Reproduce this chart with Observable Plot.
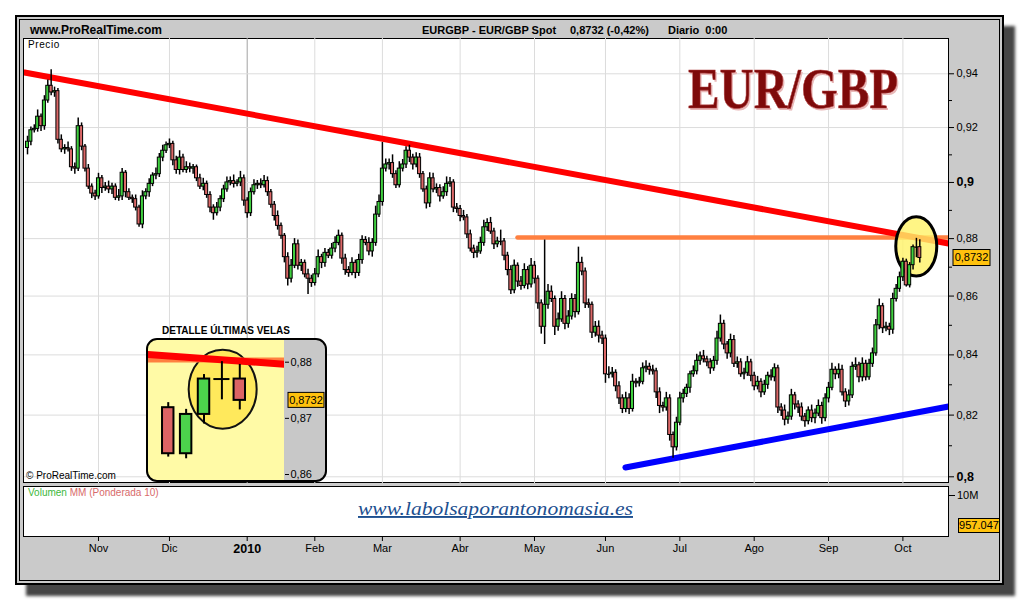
<!DOCTYPE html>
<html><head><meta charset="utf-8">
<script src="https://cdn.jsdelivr.net/npm/d3@7"></script>
<script src="https://cdn.jsdelivr.net/npm/@observablehq/plot@0.6"></script>
<style>
body{margin:0;background:#fff;width:1020px;height:600px;overflow:hidden;font-family:"Liberation Sans",Arial,sans-serif;}
#root{position:relative;width:1020px;height:600px;}
.abs{position:absolute;}
#frame{left:15px;top:15px;width:985px;height:566px;background:#cacaca;border:2px solid #000;
 box-shadow: inset 0 0 0 2px #cacaca, inset 0 0 0 3px #000, 11px 11px 3px #454545;}
.hdr{font-size:12px;font-weight:bold;line-height:14px;white-space:pre;color:#000;}
.hdr2{font-size:11px;font-weight:bold;line-height:14px;white-space:pre;color:#000;}
#mainpanel{left:23px;top:38px;width:924px;height:443px;background:#fff;border:1px solid #000;}
#volpanel{left:23px;top:486px;width:924px;height:49px;background:#fff;border:1px solid #000;}
#insetbox{left:146px;top:338px;width:177px;height:140px;border:2px solid #000;border-radius:11px;
 background:linear-gradient(to right,#fffaa6 0,#fffaa6 136px,#c8c8c8 136px);}
.small{font-size:10px;line-height:12px;white-space:pre;}
svg{overflow:visible;}
</style></head>
<body><div id="root">
<div id="frame" class="abs"></div>
<div class="abs hdr" style="left:30px;top:23px">www.ProRealTime.com</div>
<div class="abs hdr2" style="left:422px;top:23px">EURGBP - EUR/GBP Spot</div>
<div class="abs hdr2" style="left:570px;top:23px">0,8732 (-0,42%)</div>
<div class="abs hdr2" style="left:668px;top:23px">Diario  0:00</div>
<div id="mainpanel" class="abs"></div>
<div id="volpanel" class="abs"></div>
<div id="mainchart" class="abs" style="left:24px;top:38px"></div>
<div class="abs small" style="left:28px;top:39px;letter-spacing:0.6px">Precio</div>
<div class="abs small" style="left:26px;top:470px">© ProRealTime.com</div>
<svg class="abs" style="left:686px;top:62px" width="222" height="52">
 <text x="3.5" y="47.5" font-family="Liberation Serif, serif" font-weight="bold" font-size="57" textLength="210" lengthAdjust="spacingAndGlyphs" fill="#e8b8b8">EUR/GBP</text>
 <text x="2" y="46" font-family="Liberation Serif, serif" font-weight="bold" font-size="57" textLength="210" lengthAdjust="spacingAndGlyphs" fill="#7e0a0a" stroke="#b04040" stroke-width="0.6">EUR/GBP</text>
</svg>
<div class="abs" style="left:162px;top:324px;font-size:11.5px;font-weight:bold;white-space:pre;transform:scaleX(0.87);transform-origin:left top">DETALLE ÚLTIMAS VELAS</div>
<div id="insetbox" class="abs"></div>
<div id="insetchart" class="abs" style="left:148px;top:340px"></div>
<div class="abs small" style="left:28px;top:487px"><span style="color:#3cb83c">Volumen</span><span style="color:#d86a6a"> MM (Ponderada 10)</span></div>
<svg class="abs" style="left:356px;top:496px" width="285" height="26">
 <text x="2" y="19" font-family="Liberation Serif, serif" font-style="italic" font-size="19" textLength="275" lengthAdjust="spacingAndGlyphs" fill="#1d4f8f" text-decoration="underline">www.labolsaporantonomasia.es</text>
</svg>
<div class="abs" style="left:949px;top:495px;width:6px;height:1px;background:#000"></div>
<div class="abs" style="left:957px;top:489px;font-size:11px;line-height:12px">10M</div>
<div class="abs" style="left:958px;top:518px;width:40px;height:13px;background:#ffc20e;border:1px solid #000;font-size:11px;line-height:13px;text-align:center">957.047</div>
<div id="xaxis" class="abs" style="left:24px;top:536px"></div>
</div>
<script>
// ---- data (prices x 10000, daily candles, Oct 2009 - Oct 2010) ----
const firstOpen = 9125;
const closes = [
 9148,9190,9195,9240,9205,9300,9355,9330,9335,9155,
 9120,9125,9120,9055,9050,9205,9130,9050,8985,8960,
 8950,9015,8980,8985,8975,8985,8945,8950,9035,8965,
 8945,8940,8910,8850,8950,8965,8995,9025,9030,9090,
 9115,9135,9140,9080,9045,9090,9045,9055,9050,9055,
 9015,8985,8995,8955,8910,8890,8910,8940,8975,9000,
 9005,8995,9000,9015,8935,8890,8965,8990,8995,8990,
 9005,8965,8920,8880,8845,8810,8735,8660,8705,8780,
 8705,8715,8675,8660,8645,8675,8735,8715,8750,8740,
 8765,8785,8810,8730,8690,8680,8715,8680,8725,8795,
 8785,8755,8785,8885,8930,9050,9065,9070,9030,8990,
 9050,9065,9115,9090,9065,9090,9030,8975,8925,9015,
 8975,8980,8950,8965,8995,9000,8910,8905,8880,8875,
 8815,8765,8750,8755,8785,8840,8855,8825,8780,8790,
 8790,8740,8690,8620,8705,8650,8635,8690,8640,8705,
 8660,8575,8495,8570,8615,8590,8495,8520,8590,8505,
 8530,8590,8545,8715,8685,8575,8570,8475,8495,8465,
 8455,8335,8335,8340,8295,8255,8220,8255,8220,8310,
 8305,8310,8355,8360,8350,8345,8275,8230,8225,8255,
 8135,8095,8175,8255,8270,8290,8335,8345,8380,8395,
 8385,8375,8355,8380,8455,8505,8435,8405,8450,8370,
 8375,8335,8340,8375,8330,8295,8310,8275,8300,8330,
 8325,8355,8225,8215,8185,8195,8265,8235,8225,8195,
 8180,8215,8190,8205,8230,8190,8255,8290,8350,8335,
 8350,8275,8245,8265,8360,8365,8325,8370,8325,8370,
 8405,8500,8565,8490,8495,8485,8590,8625,8665,8719,
 8637,8707,8770,8770,8732];
// wick length above body top / below body bottom, in pips
const wickUp = [
 20,12,15,25,10,18,22,60,15,10,
 18,12,22,10,15,30,12,8,15,10,
 12,18,10,15,20,12,10,25,15,8,
 12,10,15,8,20,12,18,10,22,15,
 20,12,18,10,15,25,12,20,15,10,
 8,15,20,10,12,10,18,12,15,20,
 15,22,10,25,12,10,15,20,12,18,
 20,15,10,12,18,10,8,15,22,20,
 15,12,10,18,12,20,25,10,15,12,
 18,22,20,10,15,12,18,10,20,15,
 12,18,15,30,25,95,20,15,30,12,
 25,18,15,20,12,18,15,10,12,20,
 18,15,12,20,25,18,10,15,12,20,
 10,15,12,18,20,25,15,20,12,15,
 40,10,12,15,20,10,18,22,12,25,
 15,10,12,225,25,20,10,22,25,12,
 20,18,15,55,20,12,15,10,18,20,
 15,12,25,18,10,15,12,20,15,25,
 10,15,18,20,12,15,10,15,12,20,
 12,10,18,20,15,12,10,18,22,15,
 20,10,12,15,25,30,12,10,20,15,
 18,12,15,20,10,12,18,10,15,12,
 20,15,10,12,18,15,20,10,12,15,
 10,12,18,15,20,12,15,18,22,10,
 20,15,12,18,15,25,10,20,12,15,
 18,20,25,10,15,12,20,15,18,12,
 9,9,8,31,26];
const wickDown = [
 25,15,10,12,20,15,10,12,18,15,
 12,18,10,15,20,10,15,12,10,18,
 15,10,20,12,15,18,10,12,15,20,
 10,15,12,10,15,12,18,10,15,12,
 15,10,12,20,15,18,10,12,15,20,
 12,10,15,12,18,25,10,15,12,10,
 12,15,10,15,20,18,12,10,15,12,
 10,15,12,18,15,12,20,25,15,10,
 15,20,12,55,15,10,12,20,15,10,
 12,15,10,20,18,15,10,20,12,15,
 10,15,20,12,10,15,12,20,15,12,
 10,12,15,18,20,12,15,10,20,15,
 12,15,20,10,15,12,18,15,20,12,
 15,12,20,18,10,12,15,10,18,12,
 15,18,20,15,12,20,15,10,18,12,
 18,20,25,60,15,12,30,15,10,20,
 15,12,20,10,15,18,12,20,15,25,
 20,30,15,12,18,20,15,12,18,10,
 15,12,10,15,18,12,20,25,15,12,
 20,35,12,10,15,12,18,10,12,15,
 12,15,20,10,15,12,18,20,15,12,
 15,10,18,12,20,15,12,18,10,15,
 12,15,20,20,20,15,12,18,20,15,
 20,12,15,18,10,20,12,15,10,18,
 15,12,20,15,10,12,18,15,12,10,
 12,10,15,18,12,20,15,10,12,15,
 6,9,17,37,17];
const monthIdx = [21,42,65,85,105,128,150,171,193,215,237,259];
const monthLabels = ["Nov","Dic","2010","Feb","Mar","Abr","May","Jun","Jul","Ago","Sep","Oct"];
const yMajor = [0.8,0.82,0.84,0.86,0.88,0.9,0.92,0.94];
const yBold = [0.8,0.9];
const yMinor = [0.81,0.83,0.85,0.87,0.89,0.91,0.93];
const insetTicks = [0.86,0.87,0.88];
const resistance = [[-0.89,0.9405],[272.49,0.87828]];
const horizontal = [[144.97,0.8804],[272.49,0.8804]];
const support = [[176.9,0.80298],[272.49,0.82282]];
const lastPrice = 0.8732;
const focus = [263.1,0.8771];
const insetFocus = [263.07,0.8751];
const insetCount = 5;

// ---- build table ----
const candles = closes.map((c,i)=>{
  const open=(i?closes[i-1]:firstOpen)/1e4, close=c/1e4;
  return {i, open, close, high:Math.max(open,close)+wickUp[i]/1e4, low:Math.min(open,close)-wickDown[i]/1e4};
});
const fmt = d => String(d).replace(".", ",");
const NS="http://www.w3.org/2000/svg";
function ellipseMark(c, rx, ry, attrs){
  return (index, scales) => {
    const e=document.createElementNS(NS,"ellipse");
    e.setAttribute("cx", scales.x(c[0])); e.setAttribute("cy", scales.y(c[1]));
    e.setAttribute("rx", rx); e.setAttribute("ry", ry);
    for (const k in attrs) e.setAttribute(k, attrs[k]);
    return e;
  };
}
function priceTag(v, label, x0, w, h, fs){
  return (index, scales, values, dims) => {
    const g=document.createElementNS(NS,"g");
    const y=scales.y(v), x=dims.width-dims.marginRight+x0;
    const r=document.createElementNS(NS,"rect");
    r.setAttribute("x",x); r.setAttribute("y",y-h/2); r.setAttribute("width",w); r.setAttribute("height",h);
    r.setAttribute("fill","#ffc20e"); r.setAttribute("stroke","#000"); r.setAttribute("stroke-width",1);
    const t=document.createElementNS(NS,"text");
    t.setAttribute("x",x+w/2); t.setAttribute("y",y); t.setAttribute("dy","0.35em");
    t.setAttribute("text-anchor","middle"); t.setAttribute("font-size",fs); t.textContent=label;
    g.appendChild(r); g.appendChild(t); return g;
  };
}
const lineOpts = (stroke, w) => ({x:d=>d[0], y:d=>d[1], stroke, strokeWidth:w, clip:true});
const baseStyle = {background:"transparent", overflow:"visible", fontFamily:"Liberation Sans, Arial, sans-serif", fontSize:"11px", color:"#000"};
const up = d => d.close>d.open ? "#3fcf3f" : "#dc6868";

const main = Plot.plot({
  width:976, height:445, marginLeft:0, marginRight:52, marginTop:0, marginBottom:0,
  style:baseStyle,
  x:{domain:[-0.89,272.49], axis:null},
  y:{type:"log", domain:[0.79786,0.95337]},
  marks:[
    Plot.ruleX(monthIdx, {x:d=>d, stroke:(d,k)=>monthLabels[k]==="2010"?"#a3a3a3":"#dcdcdc", strokeWidth:1}),
    Plot.ruleY(yMajor, {y:d=>d, stroke:"#dcdcdc", strokeWidth:1}),
    Plot.line(horizontal, lineOpts("#ff8040",4.5)),
    Plot.line(resistance, lineOpts("#ff0000",6)),
    Plot.line(support, lineOpts("#0000ff",6)),
    ellipseMark(focus, 20.5, 29.7, {fill:"#fff36a","fill-opacity":0.82, stroke:"#000","stroke-width":3}),
    Plot.ruleX(candles, {x:"i", y1:"low", y2:"high", stroke:"#000", strokeWidth:1.5}),
    Plot.rect(candles.filter(d=>d.open!==d.close), {x1:d=>d.i-0.45, x2:d=>d.i+0.45, y1:"open", y2:"close", fill:up, stroke:"#000", strokeWidth:1}),
    Plot.ruleY(candles.filter(d=>d.open===d.close), {x1:d=>d.i-0.45, x2:d=>d.i+0.45, y:"open", stroke:"#000", strokeWidth:1.3}),
    Plot.axisY({ticks:yMajor.filter(v=>!yBold.includes(v)), anchor:"right", tickSize:5, tickPadding:3, tickFormat:fmt, label:null}),
    Plot.axisY({ticks:yBold, anchor:"right", tickSize:5, tickPadding:3, tickFormat:fmt, fontWeight:"bold", fontSize:12.5, label:null}),
    Plot.axisY({ticks:yMinor, anchor:"right", tickSize:3, tickFormat:()=>"", label:null}),
    priceTag(lastPrice, fmt(lastPrice), 5, 37, 16, 11)
  ]
});
document.getElementById("mainchart").appendChild(main);

const last = candles.slice(-insetCount);
const inset = Plot.plot({
  width:175, height:140, marginLeft:0, marginRight:39, marginTop:0, marginBottom:0,
  style:baseStyle,
  x:{domain:[258.896,266.5], axis:null},
  y:{domain:[0.858932,0.883865]},
  marks:[
    ellipseMark(insetFocus, 34, 39.5, {fill:"#ffe95c", stroke:"#111","stroke-width":2}),
    Plot.line(horizontal, lineOpts("#ff8040",5)),
    Plot.line(resistance, lineOpts("#ff0000",7)),
    Plot.ruleX(last, {x:"i", y1:"low", y2:"high", stroke:"#000", strokeWidth:2}),
    Plot.rect(last.filter(d=>d.open!==d.close), {x1:d=>d.i-0.32, x2:d=>d.i+0.32, y1:"open", y2:"close", fill:d=>d.close>d.open?"#4cd24c":"#dc6464", stroke:"#000", strokeWidth:2}),
    Plot.ruleY(last.filter(d=>d.open===d.close), {x1:d=>d.i-0.45, x2:d=>d.i+0.45, y:"open", stroke:"#000", strokeWidth:2}),
    Plot.axisY({ticks:insetTicks, anchor:"right", tickSize:4, tickPadding:2, tickFormat:fmt, label:null}),
    priceTag(lastPrice, fmt(lastPrice), 4, 36, 15, 11)
  ]
});
document.getElementById("insetchart").appendChild(inset);

const labelOf = d => monthLabels[monthIdx.indexOf(d)];
const xaxis = Plot.plot({
  width:976, height:30, marginLeft:0, marginRight:52, marginTop:1, marginBottom:29,
  style:baseStyle,
  x:{domain:[-0.89,272.49]},
  marks:[
    Plot.axisX({ticks:monthIdx.filter(d=>labelOf(d)!=="2010"), anchor:"bottom", tickSize:4, tickPadding:3, tickFormat:labelOf, label:null}),
    Plot.axisX({ticks:monthIdx.filter(d=>labelOf(d)==="2010"), anchor:"bottom", tickSize:4, tickPadding:3, tickFormat:labelOf, fontWeight:"bold", fontSize:12.5, label:null})
  ]
});
document.getElementById("xaxis").appendChild(xaxis);
</script>
</body></html>
